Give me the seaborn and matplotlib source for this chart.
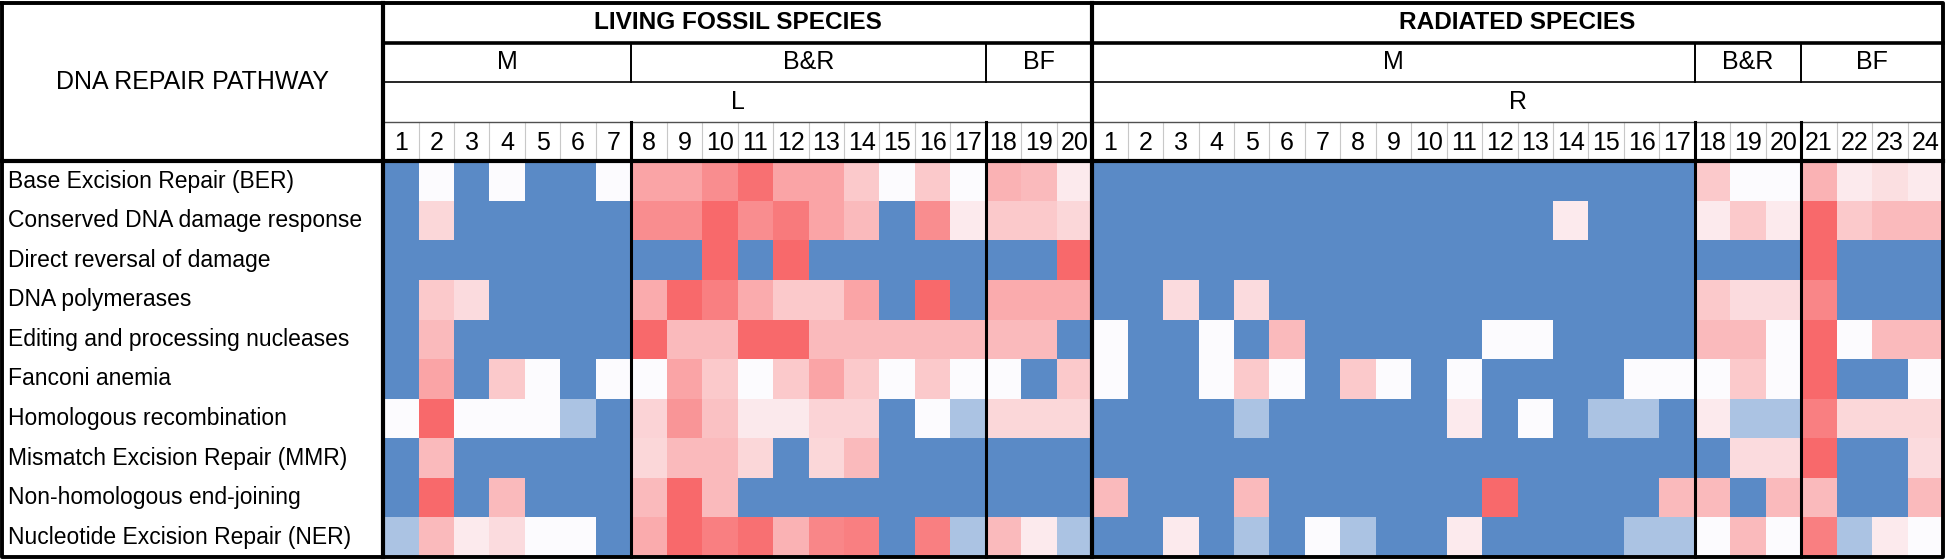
import numpy as np
import pandas as pd
import seaborn as sns
import matplotlib
matplotlib.use("Agg")
import matplotlib.pyplot as plt
from matplotlib.colors import LinearSegmentedColormap
from matplotlib import font_manager

# row categories
pathways = [
    "Base Excision Repair (BER)",
    "Conserved DNA damage response",
    "Direct reversal of damage",
    "DNA polymerases",
    "Editing and processing nucleases",
    "Fanconi anemia",
    "Homologous recombination",
    "Mismatch Excision Repair (MMR)",
    "Non-homologous end-joining",
    "Nucleotide Excision Repair (NER)",
]

living_numbers = [str(i) for i in range(1, 21)]
radiated_numbers = [str(i) for i in range(1, 25)]

# -1 = blue (low), 0 = white, 1 = red (high)
living_values = [
    [-1, 0, -1, 0, -1, -1, 0, .6, .6, .75, .95, .6, .6, .35, 0, .35, 0, .5, .45, .12],
    [-1, .25, -1, -1, -1, -1, -1, .75, .75, 1, .75, .88, .6, .45, -1, .75, .12, .35, .35, .25],
    [-1, -1, -1, -1, -1, -1, -1, -1, -1, 1, -1, 1, -1, -1, -1, -1, -1, -1, -1, 1],
    [-1, .35, .22, -1, -1, -1, -1, .55, 1, .85, .55, .35, .35, .6, -1, 1, -1, .55, .55, .55],
    [-1, .45, -1, -1, -1, -1, -1, 1, .45, .45, 1, 1, .45, .45, .45, .45, .45, .45, .45, -1],
    [-1, .6, -1, .35, 0, -1, 0, 0, .6, .35, 0, .35, .6, .35, 0, .35, 0, 0, -1, .35],
    [0, 1, 0, 0, 0, -.5, -1, .28, .7, .4, .13, .13, .28, .28, -1, 0, -.5, .25, .25, .25],
    [-1, .45, -1, -1, -1, -1, -1, .25, .45, .45, .25, -1, .25, .45, -1, -1, -1, -1, -1, -1],
    [-1, 1, -1, .45, -1, -1, -1, .45, 1, .45, -1, -1, -1, -1, -1, -1, -1, -1, -1, -1],
    [-.5, .45, .12, .22, 0, 0, -1, .55, 1, .85, .95, .5, .8, .85, -1, .85, -.5, .45, .12, -.5],
]

radiated_values = [
    [-1] * 17 + [.35, 0, 0, .5, .12, .2, .12],
    [-1] * 13 + [.12] + [-1] * 3 + [.12, .35, .12, 1, .35, .45, .45],
    [-1] * 20 + [1, -1, -1, -1],
    [-1, -1, .22, -1, .22] + [-1] * 12 + [.35, .22, .22, .8, -1, -1, -1],
    [0, -1, -1, 0, -1, .45, -1, -1, -1, -1, -1, 0, 0, -1, -1, -1, -1, .45, .45, 0, 1, 0, .45, .45],
    [0, -1, -1, 0, .35, 0, -1, .35, 0, -1, 0, -1, -1, -1, -1, 0, 0, 0, .35, 0, 1, -1, -1, 0],
    [-1, -1, -1, -1, -.5, -1, -1, -1, -1, -1, .12, -1, 0, -1, -.5, -.5, -1, .12, -.5, -.5, .85, .25, .25, .25],
    [-1] * 18 + [.22, .22, 1, -1, -1, .22],
    [.45, -1, -1, -1, .45, -1, -1, -1, -1, -1, -1, 1, -1, -1, -1, -1, .45, .45, -1, .45, .45, -1, -1, .45],
    [-1, -1, .12, -1, -.5, -1, 0, -.5, -1, -1, .12, -1, -1, -1, -1, -.5, -.5, 0, .45, 0, .85, -.5, .12, 0],
]

# header groups: (label, first col, last col) in 1-based positions over all 44 cols
groups = [("M", 1, 7), ("B&R", 8, 17), ("BF", 18, 20),
          ("M", 21, 37), ("B&R", 38, 40), ("BF", 41, 44)]
subgroups = [("L", 1, 20), ("R", 21, 44)]
titles = [("LIVING FOSSIL SPECIES", 1, 20), ("RADIATED SPECIES", 21, 44)]

names = {f.name for f in font_manager.fontManager.ttflist}
narrow = "Liberation Sans Narrow" if "Liberation Sans Narrow" in names else "Liberation Sans"

columns = ["L" + n for n in living_numbers] + ["R" + n for n in radiated_numbers]
df = pd.DataFrame(np.hstack([np.array(living_values), np.array(radiated_values)]),
                  index=pathways, columns=columns)

cmap = LinearSegmentedColormap.from_list("excel", ["#5A8AC6", "#FCFCFF", "#F8696B"])

fig = plt.figure(figsize=(19.46, 5.6), dpi=100)
ax = fig.add_axes([2 / 1946, 3 / 560, 1941 / 1946, 554 / 560])
sns.heatmap(df, ax=ax, cmap=cmap, vmin=-1, vmax=1, cbar=False,
            xticklabels=False, yticklabels=False, linewidths=0)
ncol = df.shape[1]
left = -10.75
ax.set_xlim(left, ncol)
ax.set_ylim(10, -4)
ax.axis("off")

def line(xs, ys, lw, color="black"):
    ax.plot(xs, ys, color=color, lw=lw, solid_capstyle="projecting", clip_on=False)

# light grid in the numbers row
for k in range(1, ncol):
    line([k, k], [-1, 0], 0.8, "#C8C8C8")

# header horizontals
line([0, ncol], [-2, -2], 1.2)
line([0, ncol], [-1, -1], 1.0, "#505050")
line([0, ncol], [-3, -3], 2.6)
line([left, ncol], [0, 0], 3.0)

# group separators
for k in [7, 17, 37, 40]:
    line([k, k], [-3, -2], 1.4)
    line([k, k], [-1, 10], 2.2)
line([20, 20], [-4, 10], 3.0)
line([0, 0], [-4, 10], 3.0)

# outer frame
line([left, ncol, ncol, left, left], [-4, -4, 10, 10, -4], 2.8)

# texts
ax.text(left / 2, -2, "DNA REPAIR PATHWAY", ha="center", va="center",
        fontsize=18, family=narrow)
for label, a, b in titles:
    ax.text((a - 1 + b) / 2, -3.5, label, ha="center", va="center",
            fontsize=17.6, fontweight="bold", family=narrow)
for label, a, b in groups:
    ax.text((a - 1 + b) / 2, -2.5, label, ha="center", va="center",
            fontsize=18, family=narrow)
for label, a, b in subgroups:
    ax.text((a - 1 + b) / 2, -1.5, label, ha="center", va="center",
            fontsize=18, family=narrow)
for k, n in enumerate(living_numbers + radiated_numbers):
    ax.text(k + 0.5, -0.45, n, ha="center", va="center", fontsize=18, family=narrow)
for i, p in enumerate(pathways):
    ax.text(left + 0.17, i + 0.5, p, ha="left", va="center", fontsize=16.5,
            family="Liberation Sans")

fig.savefig("out.png", dpi=100, facecolor="white")
